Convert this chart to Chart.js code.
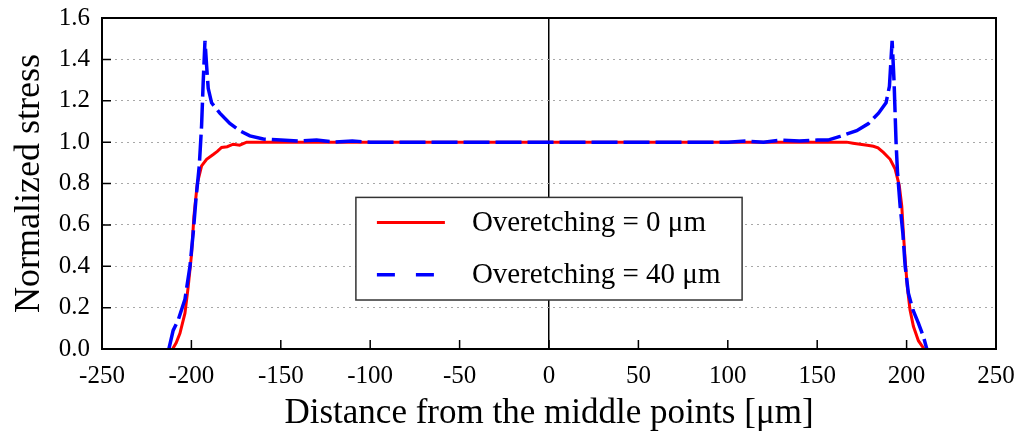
<!DOCTYPE html>
<html lang="en">
<head>
    <meta charset="UTF-8">
    <title>Normalized stress</title>
    <style>
        html, body { margin: 0; padding: 0; background: #fff; }
        #wrap { width: 1022px; height: 439px; }
    </style>
</head>
<body>
    <div id="wrap">
        <canvas id="myChart" width="1022" height="439"></canvas>
    </div>

    <script src="https://cdn.jsdelivr.net/npm/chart.js@4.4.1/dist/chart.umd.min.js"></script>
    <script>
        // overetching = 0 um
        var redX = [-210.5, -208.5, -206.4, -203.6, -201.8, -199.9, -198.6, -196.7, -194.3, -191.5, -187.8, -185.5, -183.1, -180, -176.6, -173, -169.1, -160, -150, -100, -50, 0, 50, 100, 150, 160, 166.5, 170, 174.0, 178, 181.4, 184, 187.0, 190.8, 193.6, 195.9, 197.3, 198.2, 199.2, 200.4, 201.9, 203.8, 206.6, 209.8];
        var redY = [0, 0.03, 0.076, 0.173, 0.30, 0.46, 0.64, 0.80, 0.885, 0.917, 0.94, 0.955, 0.974, 0.978, 0.99, 0.985, 1.0, 1.0, 1.0, 1.0, 1.0, 1.0, 1.0, 1.0, 1.0, 1.0, 1.0, 0.995, 0.99, 0.985, 0.98, 0.972, 0.95, 0.917, 0.87, 0.79, 0.69, 0.56, 0.43, 0.30, 0.19, 0.11, 0.04, 0];

        // overetching = 40 um
        var blueX = [-212.6, -210.2, -207.4, -203.6, -200.8, -199.0, -197.5, -195.6, -194.3, -193.4, -192.4, -191.5, -190.6, -188.7, -184.1, -178.5, -172.9, -167.3, -159.8, -150, -140, -130, -120, -110, -100, -50, 0, 50, 100, 110, 120, 130, 140, 150, 156, 162.8, 172.1, 178.7, 184.3, 188.5, 190.4, 191.9, 193.0, 194.1, 194.9, 196.4, 197.9, 199.2, 201.0, 203.5, 206.6, 209.4, 211.3];
        var blueY = [0, 0.09, 0.14, 0.24, 0.40, 0.56, 0.72, 0.885, 1.08, 1.29, 1.49, 1.37, 1.26, 1.19, 1.14, 1.09, 1.055, 1.03, 1.015, 1.01, 1.005, 1.01, 1.0, 1.005, 1.0, 1.0, 1.0, 1.0, 1.0, 1.005, 1.0, 1.01, 1.005, 1.01, 1.01, 1.028, 1.055, 1.09, 1.14, 1.19, 1.27, 1.49, 1.29, 1.0, 0.855, 0.69, 0.56, 0.40, 0.27, 0.19, 0.125, 0.06, 0];

        var seriesNames = ['Overetching = 0 \u03bcm', 'Overetching = 40 \u03bcm'];
        var xTitle = 'Distance from the middle points [\u03bcm]';
        var yTitle = 'Normalized stress';

        function toPoints(xs, ys){
            var pts = [];
            for(var i = 0; i < xs.length; i++){
                pts.push({x: xs[i], y: ys[i]});
            }
            return pts;
        }

        var serif = "'Liberation Serif', 'DejaVu Serif', serif";

        // frame, inward tick marks and the boxed legend
        var framePlugin = {
            id: 'frame',
            afterDraw: function(chart){
                var ctx = chart.ctx;
                var a = chart.chartArea;
                var xs = chart.scales.x, ys = chart.scales.y;
                ctx.save();
                ctx.strokeStyle = '#000';
                ctx.lineWidth = 2;
                ctx.strokeRect(a.left, a.top, a.right - a.left, a.bottom - a.top);

                ctx.lineWidth = 1.5;
                ctx.beginPath();
                xs.ticks.forEach(function(t){
                    var px = xs.getPixelForValue(t.value);
                    ctx.moveTo(px, a.bottom);
                    ctx.lineTo(px, a.bottom - 9);
                });
                ys.ticks.forEach(function(t){
                    var py = ys.getPixelForValue(t.value);
                    ctx.moveTo(a.left, py);
                    ctx.lineTo(a.left + 9, py);
                });
                ctx.stroke();

                // legend box
                var w = a.right - a.left, h = a.bottom - a.top;
                var bx = a.left + w * 0.284, by = a.top + h * 0.542;
                var bw = w * 0.432, bh = h * 0.31;
                ctx.fillStyle = '#fff';
                ctx.fillRect(bx, by, bw, bh);
                ctx.lineWidth = 1.5;
                ctx.strokeStyle = '#333';
                ctx.strokeRect(bx, by, bw, bh);

                var ds = chart.data.datasets;
                var rows = [by + bh * 0.245, by + bh * 0.755];
                var order = [1, 0];
                ctx.font = '29px ' + serif;
                ctx.textBaseline = 'middle';
                ctx.textAlign = 'left';
                for(var i = 0; i < 2; i++){
                    var d = ds[order[i]];
                    ctx.strokeStyle = d.borderColor;
                    ctx.lineWidth = d.borderWidth;
                    ctx.setLineDash(d.legendDash || []);
                    ctx.beginPath();
                    ctx.moveTo(bx + 21, rows[i]);
                    ctx.lineTo(bx + 89, rows[i]);
                    ctx.stroke();
                    ctx.setLineDash([]);
                    ctx.fillStyle = '#000';
                    ctx.fillText(d.label, bx + 116, rows[i] + 1);
                }
                ctx.restore();
            }
        };

        function createChart(){
            var ctx = document.getElementById("myChart").getContext("2d");
            var myChart = new Chart(ctx, {
                type: 'line',
                data: {
                    datasets: [
                        {
                            label: seriesNames[1],
                            data: toPoints(blueX, blueY),
                            borderColor: '#0000ff',
                            borderWidth: 3.5,
                            borderDash: [26, 6],
                            legendDash: [18, 21],
                            pointRadius: 0,
                            tension: 0,
                            fill: false,
                            order: 0
                        },
                        {
                            label: seriesNames[0],
                            data: toPoints(redX, redY),
                            borderColor: '#ff0000',
                            borderWidth: 3,
                            pointRadius: 0,
                            tension: 0,
                            fill: false,
                            order: 1
                        }
                    ]
                },
                options: {
                    responsive: false,
                    animation: false,
                    layout: { padding: { top: 18, right: 26, left: 0, bottom: 0 } },
                    plugins: {
                        legend: { display: false },
                        tooltip: { enabled: false }
                    },
                    scales: {
                        x: {
                            type: 'linear',
                            min: -250,
                            max: 250,
                            afterFit: function(s){
                                s.height = 90;
                                s.paddingLeft = 0;
                                s.paddingRight = 0;
                            },
                            ticks: {
                                stepSize: 50,
                                color: '#000',
                                padding: 12,
                                maxRotation: 0,
                                font: { family: serif, size: 25 }
                            },
                            grid: {
                                drawTicks: false,
                                lineWidth: 1.5,
                                color: function(c){
                                    return (c.tick && c.tick.value === 0) ? '#000' : 'rgba(0,0,0,0)';
                                }
                            },
                            border: { display: true, color: '#000', width: 2 },
                            title: {
                                display: true,
                                text: xTitle,
                                color: '#000',
                                padding: { top: 0 },
                                font: { family: serif, size: 35 }
                            }
                        },
                        y: {
                            min: 0,
                            max: 1.6,
                            afterFit: function(s){
                                s.width = 102;
                                s.paddingTop = 0;
                                s.paddingBottom = 0;
                            },
                            ticks: {
                                stepSize: 0.2,
                                color: '#000',
                                padding: 12,
                                font: { family: serif, size: 25 },
                                callback: function(v){ return v.toFixed(1); }
                            },
                            grid: {
                                drawTicks: false,
                                lineWidth: 1,
                                color: '#a8a8a8'
                            },
                            border: { display: true, color: '#000', width: 2, dash: [2, 4] },
                            title: {
                                display: true,
                                text: yTitle,
                                color: '#000',
                                padding: { bottom: 0, top: 8 },
                                font: { family: serif, size: 36 }
                            }
                        }
                    }
                },
                plugins: [framePlugin]
            });
        }
        createChart();
    </script>
</body>
</html>
